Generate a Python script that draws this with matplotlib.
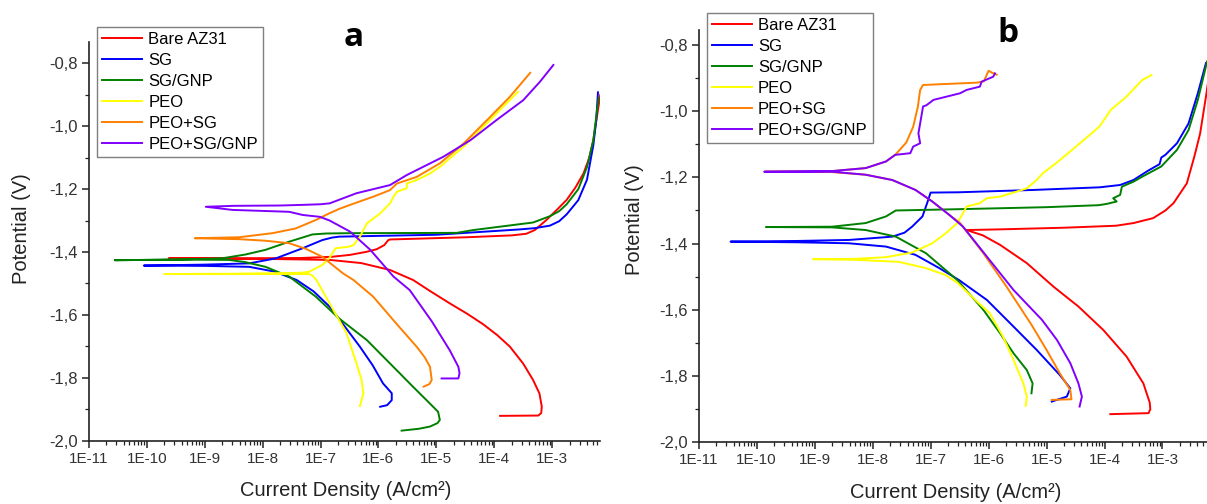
import numpy as np
import matplotlib
matplotlib.use("Agg")
import matplotlib.pyplot as plt
from matplotlib.ticker import FixedLocator, FuncFormatter, MultipleLocator, LogLocator, NullFormatter

plt.rcParams['font.family'] = ['Liberation Sans', 'DejaVu Sans']

labels = ["Bare AZ31", "SG", "SG/GNP", "PEO", "PEO+SG", "PEO+SG/GNP"]
colors = ["#ff0000", "#0000ff", "#008000", "#ffff00", "#ff8000", "#8000ff"]
xtick_labels = ["1E-11", "1E-10", "1E-9", "1E-8", "1E-7", "1E-6", "1E-5", "1E-4", "1E-3"]

# ---------- panel a : log10(current density, A/cm2) and potential (V) ----------
a_bare_logj = [-3.90, -3.24, -3.19, -3.18, -3.22, -3.33, -3.50, -3.73, -3.95, -4.19, -4.47, -4.77, -5.10, -5.40, -5.80, -6.30, -6.84, -7.90, -9.62,
               -8.50, -7.35, -6.80, -6.49, -6.20, -6.03, -5.90, -5.83, -5.80, -4.48, -3.70, -3.45, -3.30, -3.10, -2.90, -2.75, -2.60, -2.46, -2.36, -2.29, -2.17]
a_bare_E = [-1.921, -1.920, -1.912, -1.892, -1.850, -1.807, -1.755, -1.701, -1.664, -1.630, -1.596, -1.563, -1.525, -1.489, -1.457, -1.435, -1.425, -1.422, -1.420,
            -1.420, -1.419, -1.415, -1.409, -1.399, -1.391, -1.378, -1.362, -1.360, -1.353, -1.347, -1.342, -1.330, -1.298, -1.262, -1.234, -1.195, -1.150, -1.100, -1.044, -0.900]

a_sg_logj = [-5.97, -5.85, -5.77, -5.77, -5.92, -6.10, -6.32, -6.58, -6.84, -7.12, -7.41, -7.80, -8.23, -9.00, -10.05,
             -9.00, -8.23, -7.77, -7.31, -6.97, -6.80, -6.68, -5.00, -3.56, -3.30, -3.04, -2.88, -2.75, -2.55, -2.40, -2.29, -2.24, -2.21]
a_sg_E = [-1.892, -1.887, -1.871, -1.849, -1.818, -1.760, -1.701, -1.637, -1.574, -1.525, -1.489, -1.462, -1.447, -1.444, -1.443,
          -1.440, -1.436, -1.420, -1.388, -1.362, -1.354, -1.351, -1.345, -1.328, -1.324, -1.316, -1.302, -1.280, -1.235, -1.170, -1.060, -0.980, -0.892]

a_sggnp_logj = [-5.60, -5.30, -5.11, -4.98, -4.94, -4.97, -5.17, -5.40, -5.63, -6.20, -6.68, -7.08, -7.54, -7.95, -8.30, -8.58, -9.50, -10.55,
                -9.50, -8.70, -8.30, -7.95, -7.54, -7.14, -6.90, -6.51, -4.65, -4.36, -3.33, -3.04, -2.88, -2.75, -2.55, -2.40, -2.29, -2.20]
a_sggnp_E = [-1.968, -1.962, -1.955, -1.944, -1.934, -1.908, -1.871, -1.829, -1.786, -1.680, -1.611, -1.542, -1.478, -1.447, -1.432, -1.425, -1.424, -1.426,
             -1.424, -1.420, -1.408, -1.393, -1.367, -1.344, -1.341, -1.340, -1.339, -1.330, -1.306, -1.286, -1.270, -1.248, -1.200, -1.130, -1.044, -0.910]

a_peo_logj = [-6.32, -6.26, -6.29, -6.38, -6.55, -6.78, -7.07, -7.14, -7.20, -8.50, -9.70,
              -8.50, -7.35, -7.20, -6.97, -6.85, -6.74, -6.51, -6.43, -6.32, -6.20, -5.97, -5.80, -5.74, -5.68,
              -5.51, -5.51, -5.34, -5.11, -4.94, -4.53, -4.02, -3.59]
a_peo_E = [-1.890, -1.849, -1.807, -1.754, -1.658, -1.584, -1.489, -1.475, -1.470, -1.470, -1.470,
           -1.469, -1.466, -1.463, -1.441, -1.420, -1.388, -1.383, -1.378, -1.351, -1.309, -1.277, -1.245, -1.224, -1.208,
           -1.197, -1.182, -1.171, -1.150, -1.129, -1.065, -0.970, -0.890]

a_peosg_logj = [-5.22, -5.12, -5.08, -5.11, -5.20, -5.34, -5.68, -6.09, -6.43, -6.61, -6.97, -7.25, -7.54, -7.95, -8.41, -9.17,
                -8.41, -7.83, -7.43, -7.08, -6.85, -6.68, -6.49, -6.09, -5.80, -5.68, -5.34, -4.94, -4.53, -4.07, -3.73, -3.38]
a_peosg_E = [-1.828, -1.820, -1.807, -1.765, -1.735, -1.701, -1.630, -1.542, -1.489, -1.468, -1.415, -1.390, -1.372, -1.364, -1.359, -1.356,
             -1.353, -1.340, -1.325, -1.298, -1.277, -1.263, -1.250, -1.224, -1.203, -1.182, -1.161, -1.118, -1.055, -0.970, -0.906, -0.830]

a_peosggnp_logj = [-4.91, -4.62, -4.60, -4.62, -4.77, -5.08, -5.46, -5.74, -6.14, -6.49, -6.84, -7.01, -7.31, -7.54, -8.52, -8.98,
                   -8.50, -7.70, -7.31, -7.00, -6.84, -6.38, -5.80, -5.51, -4.88, -4.41, -3.96, -3.50, -3.21, -2.98]
a_peosggnp_E = [-1.802, -1.802, -1.785, -1.765, -1.712, -1.620, -1.521, -1.478, -1.393, -1.335, -1.300, -1.288, -1.282, -1.272, -1.266, -1.256,
                -1.253, -1.252, -1.250, -1.248, -1.245, -1.213, -1.187, -1.155, -1.097, -1.044, -0.980, -0.917, -0.858, -0.805]

# ---------- panel b ----------
b_bare_logj = [-3.90, -3.24, -3.21, -3.22, -3.33, -3.62, -4.02, -4.45, -4.88, -5.34, -5.80, -6.10, -6.38,
               -5.80, -4.69, -3.80, -3.50, -3.16, -2.95, -2.81, -2.58, -2.45, -2.35, -2.25, -2.22]
b_bare_E = [-1.915, -1.912, -1.900, -1.880, -1.822, -1.741, -1.661, -1.590, -1.530, -1.459, -1.404, -1.375, -1.359,
            -1.357, -1.352, -1.346, -1.338, -1.323, -1.300, -1.278, -1.218, -1.137, -1.067, -0.956, -0.920]

b_sg_logj = [-4.91, -4.65, -4.59, -4.77, -5.17, -5.63, -6.03, -6.51, -6.85, -7.26, -7.77, -8.41, -9.30, -10.45,
             -9.30, -8.41, -7.66, -7.45, -7.32, -7.14, -7.06, -7.00, -6.51, -5.23, -4.08, -3.73, -3.50, -3.25, -3.05, -3.02,
             -2.95, -2.75, -2.55, -2.39, -2.25]
b_sg_E = [-1.877, -1.862, -1.837, -1.797, -1.721, -1.640, -1.570, -1.510, -1.474, -1.434, -1.409, -1.399, -1.396, -1.394,
          -1.392, -1.389, -1.379, -1.367, -1.349, -1.318, -1.278, -1.246, -1.245, -1.238, -1.230, -1.223, -1.208, -1.180, -1.160, -1.140,
          -1.132, -1.097, -1.037, -0.946, -0.855]

b_sggnp_logj = [-5.26, -5.24, -5.34, -5.57, -5.80, -6.09, -6.54, -6.74, -7.08, -7.60, -8.12, -8.70, -9.84,
                -8.70, -8.12, -7.77, -7.60, -6.50, -5.00, -4.10, -3.96, -3.79, -3.85, -3.73, -3.70, -3.50, -3.35,
                -3.02, -2.75, -2.55, -2.39, -2.23]
b_sggnp_E = [-1.852, -1.822, -1.782, -1.731, -1.671, -1.600, -1.510, -1.480, -1.429, -1.379, -1.359, -1.351, -1.350,
             -1.349, -1.338, -1.318, -1.300, -1.296, -1.290, -1.284, -1.280, -1.273, -1.263, -1.253, -1.228, -1.213, -1.198,
             -1.167, -1.117, -1.057, -0.966, -0.850]

b_peo_logj = [-5.36, -5.34, -5.40, -5.57, -5.75, -5.98, -6.20, -6.54, -6.74, -7.08, -7.55, -8.30, -9.03,
              -8.30, -7.77, -7.32, -6.97, -6.74, -6.54, -6.44, -6.38, -6.15, -6.03, -5.80, -5.57, -5.34, -5.17,
              -5.06, -4.82, -4.56, -4.29, -4.09, -3.89, -3.62, -3.35, -3.19]
b_peo_E = [-1.890, -1.862, -1.822, -1.751, -1.681, -1.610, -1.575, -1.518, -1.495, -1.474, -1.455, -1.449, -1.447,
           -1.446, -1.441, -1.427, -1.399, -1.369, -1.338, -1.308, -1.288, -1.278, -1.263, -1.258, -1.246, -1.233, -1.208,
           -1.187, -1.155, -1.117, -1.077, -1.047, -0.996, -0.956, -0.906, -0.891]

b_peosg_logj = [-4.91, -4.57, -4.59, -4.77, -5.00, -5.26, -5.69, -6.09, -6.49, -6.68, -6.97, -7.26, -7.66, -8.12, -8.70, -9.86,
                -8.70, -8.12, -7.77, -7.61, -7.42, -7.30, -7.22, -7.18, -7.13, -6.20, -6.08, -6.00, -5.95, -5.86]
b_peosg_E = [-1.872, -1.870, -1.842, -1.792, -1.721, -1.645, -1.530, -1.429, -1.338, -1.313, -1.273, -1.238, -1.208, -1.192, -1.184, -1.183,
             -1.181, -1.172, -1.152, -1.132, -1.095, -1.047, -0.987, -0.936, -0.921, -0.914, -0.910, -0.878, -0.883, -0.890]

b_peosggnp_logj = [-4.43, -4.39, -4.45, -4.59, -4.82, -5.08, -5.57, -6.03, -6.44, -6.68, -6.97, -7.26, -7.66, -8.12, -8.70, -9.87,
                   -8.70, -8.12, -7.77, -7.61, -7.35, -7.30, -7.18, -7.21, -7.18, -7.13, -7.07, -6.95, -6.49, -6.38, -6.15,
                   -6.12, -5.92, -5.89]
b_peosggnp_E = [-1.892, -1.862, -1.822, -1.761, -1.691, -1.630, -1.540, -1.439, -1.349, -1.313, -1.273, -1.238, -1.208, -1.192, -1.183, -1.183,
                -1.181, -1.172, -1.152, -1.132, -1.127, -1.107, -1.097, -1.067, -1.037, -0.986, -0.982, -0.966, -0.946, -0.936, -0.926,
                -0.911, -0.896, -0.886]

panel_a = [(a_bare_logj, a_bare_E), (a_sg_logj, a_sg_E), (a_sggnp_logj, a_sggnp_E),
           (a_peo_logj, a_peo_E), (a_peosg_logj, a_peosg_E), (a_peosggnp_logj, a_peosggnp_E)]
panel_b = [(b_bare_logj, b_bare_E), (b_sg_logj, b_sg_E), (b_sggnp_logj, b_sggnp_E),
           (b_peo_logj, b_peo_E), (b_peosg_logj, b_peosg_E), (b_peosggnp_logj, b_peosggnp_E)]

W, H = 1207, 504
fig = plt.figure(figsize=(W / 100, H / 100), dpi=100)

def px(x0, y0, x1, y1):
    return [x0 / W, 1 - y1 / H, (x1 - x0) / W, (y1 - y0) / H]

ax_a = fig.add_axes(px(88.8, 41.7, 600, 440.7))
ax_b = fig.add_axes(px(698.7, 30, 1207, 442.3))

setups = [
    (ax_a, panel_a, 10 ** (-2.175), -0.731, "a", (354, 37), (22, 229), (346, 490), (97.3, 26.7)),
    (ax_b, panel_b, 10 ** (-2.232), -0.755, "b", (1008, 34), (634, 219.5), (956, 493), (707.2, 12.7)),
]

for ax, data, xr, ytop, letter, tpos, ylpos, xlpos, lpos in setups:
    for (lj, e), c, lab in zip(data, colors, labels):
        ax.plot(10 ** np.array(lj), e, color=c, lw=1.4, label=lab, solid_joinstyle='round')
    ax.set_xscale('log')
    ax.set_xlim(1e-11, xr)
    ax.set_ylim(-2.0, ytop)
    ax.xaxis.set_major_locator(FixedLocator([10.0 ** k for k in range(-11, -2)]))
    ax.set_xticklabels(xtick_labels)
    ax.xaxis.set_minor_locator(LogLocator(base=10, subs=np.arange(2, 10), numticks=50))
    ax.xaxis.set_minor_formatter(NullFormatter())
    ax.yaxis.set_major_locator(MultipleLocator(0.2))
    ax.yaxis.set_minor_locator(MultipleLocator(0.1))
    ax.yaxis.set_major_formatter(FuncFormatter(lambda v, p: f"{v:.1f}".replace('.', ',')))
    for s in ['top', 'right']:
        ax.spines[s].set_visible(False)
    for s in ['left', 'bottom']:
        ax.spines[s].set_linewidth(1.2)
        ax.spines[s].set_color('#222222')
    ax.tick_params(which='major', direction='out', length=5, width=1.1, labelsize=11, colors='#222222', pad=3)
    ax.tick_params(which='minor', direction='out', length=3, width=0.9, colors='#222222')
    ax.tick_params(axis='x', labelcolor='#333333')
    ax.tick_params(axis='y', labelcolor='#333333', labelsize=12)
    fig.text(tpos[0] / W, 1 - tpos[1] / H, letter, fontsize=24, fontweight='bold',
             family=['Open Sans', 'DejaVu Sans'], ha='center', va='center', color='black')
    fig.text(ylpos[0] / W, 1 - ylpos[1] / H, "Potential (V)", rotation=90, fontsize=14.5,
             ha='center', va='center', color='#222222')
    fig.text(xlpos[0] / W, 1 - xlpos[1] / H, "Current Density (A/cm\u00b2)", fontsize=14.5,
             ha='center', va='center', color='#222222')
    leg = ax.legend(loc='upper left', bbox_to_anchor=(lpos[0] / W, 1 - lpos[1] / H),
                    bbox_transform=fig.transFigure, borderaxespad=0, fontsize=12,
                    frameon=True, fancybox=False, edgecolor='#7f7f7f', framealpha=1,
                    handlelength=2.4, handletextpad=0.35, borderpad=0.3, labelspacing=0.36)
    leg.get_frame().set_linewidth(1.0)

fig.savefig("out.png", dpi=100)
